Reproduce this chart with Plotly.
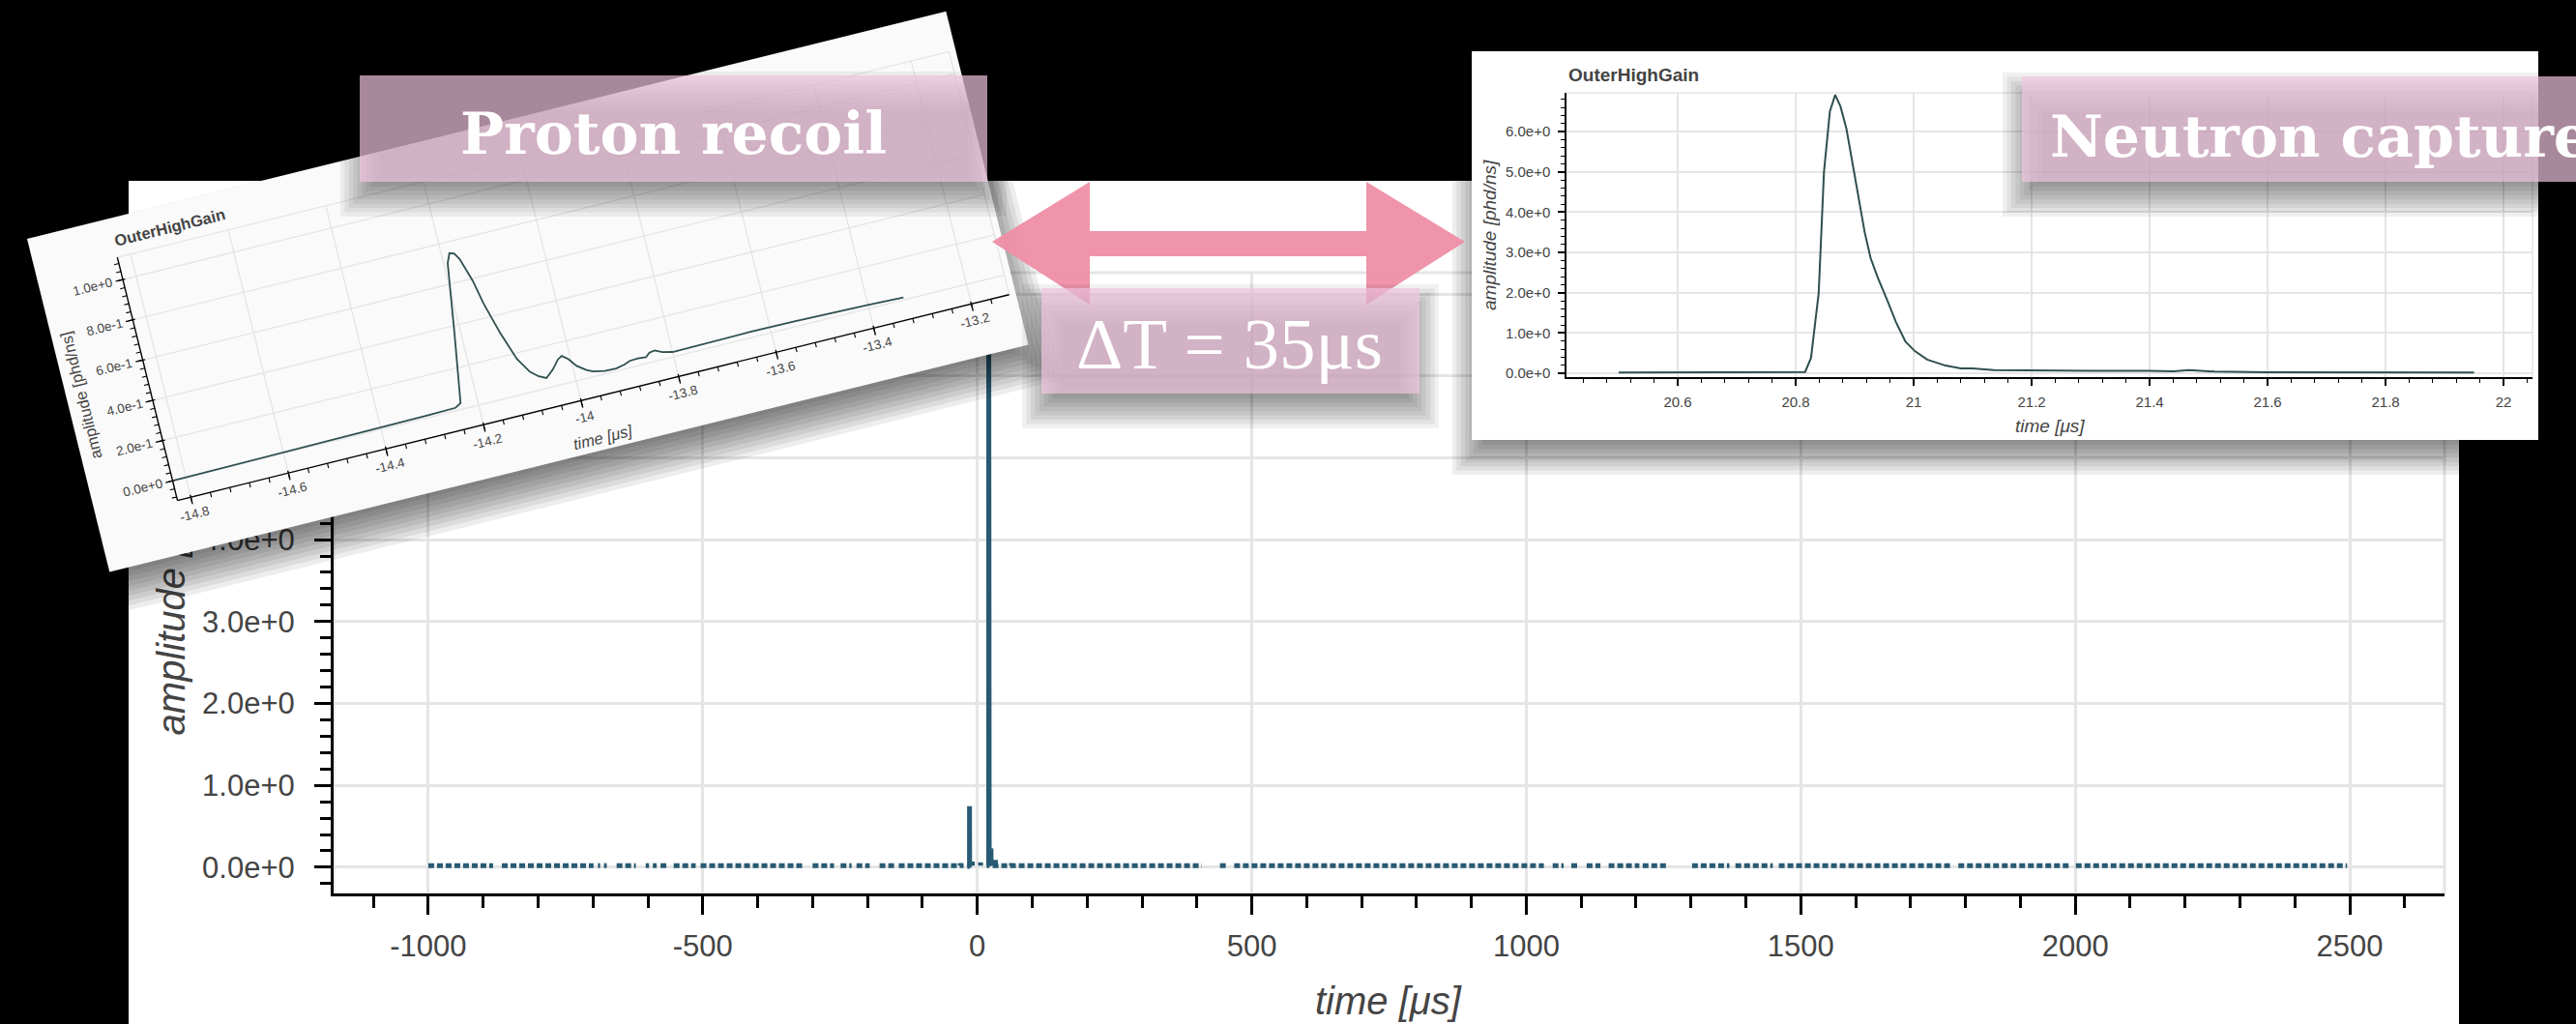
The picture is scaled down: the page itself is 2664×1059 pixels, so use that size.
import math
import plotly.graph_objects as go

W, H = 2664, 1059
SANS = "Liberation Sans"
SERIF_BOLD = "DejaVu Serif"
SERIF = "Liberation Serif"

# ---------------- data ----------------
# Full acquisition window (time in µs, amplitude in phd/ns)
baseline_start = [-1000, -866, -691, -680, -657, -604, -591, -577, -553, -504, -300, -249, -220, -178, -143,
                  28, 442, 468, 1048, 1082, 1110, 1150, 1212, 1302, 1381, 1460, 1787, 2001]
baseline_end = [-882, -699, -687, -675, -622, -598, -584, -563, -513, -314, -261, -229, -196, -149, -25,
                409, 454, 1032, 1068, 1097, 1135, 1206, 1257, 1370, 1449, 1776, 1990, 2495]
baseline_level = 0.02
afterpulse_t = [-31, -9, 6, 25, 33, 62]
afterpulse_a = [0.05, 0.07, 0.06, 0.23, 0.09, 0.05]

# Proton-recoil pulse (zoomed waveform)
proton_t = [-14.823, -14.70, -14.60, -14.50, -14.40, -14.30, -14.246, -14.234, -14.212, -14.192,
            -14.184, -14.175, -14.167, -14.152, -14.142, -14.124, -14.104, -14.085, -14.070, -14.056,
            -14.040, -14.025, -14.016, -14.005, -13.992, -13.975, -13.963, -13.940, -13.917, -13.900,
            -13.887, -13.870, -13.854, -13.845, -13.834, -13.820, -13.800, -13.750, -13.700, -13.640,
            -13.550, -13.500, -13.400, -13.328]
proton_a = [0.000, 0.002, 0.004, 0.006, 0.008, 0.011, 0.014, 0.030, 0.370, 0.700,
            0.745, 0.738, 0.706, 0.590, 0.470, 0.313, 0.172, 0.096, 0.065, 0.048,
            0.080, 0.122, 0.134, 0.112, 0.070, 0.040, 0.025, 0.014, 0.012, 0.020,
            0.032, 0.034, 0.030, 0.048, 0.052, 0.035, 0.024, 0.026, 0.028, 0.028,
            0.026, 0.024, 0.018, 0.012]

# Neutron-capture pulse (zoomed waveform)
neutron_t = [20.50, 20.55, 20.60, 20.65, 20.70, 20.75, 20.80, 20.816, 20.826, 20.839,
             20.848, 20.858, 20.867, 20.876, 20.886, 20.898, 20.908, 20.917, 20.927, 20.939,
             20.955, 20.970, 20.986, 21.002, 21.023, 21.054, 21.080, 21.100, 21.136, 21.196,
             21.300, 21.398, 21.440, 21.467, 21.510, 21.600, 21.700, 21.800, 21.950]
neutron_a = [0.02, 0.02, 0.015, 0.02, 0.015, 0.02, 0.02, 0.03, 0.38, 1.99,
             5.00, 6.50, 6.91, 6.62, 6.07, 5.10, 4.30, 3.50, 2.86, 2.38,
             1.82, 1.27, 0.79, 0.55, 0.34, 0.19, 0.12, 0.12, 0.08, 0.07,
             0.06, 0.06, 0.05, 0.08, 0.04, 0.025, 0.02, 0.02, 0.02]

# Tick labels
main_xtick_vals = [-1000, -500, 0, 500, 1000, 1500, 2000, 2500]
main_xtick_text = ["-1000", "-500", "0", "500", "1000", "1500", "2000", "2500"]
main_ytick_vals = [0, 1, 2, 3, 4, 5, 6, 7]
main_ytick_text = ["0.0e+0", "1.0e+0", "2.0e+0", "3.0e+0", "4.0e+0", "5.0e+0", "6.0e+0", "7.0e+0"]
proton_xtick_vals = [-14.8, -14.6, -14.4, -14.2, -14.0, -13.8, -13.6, -13.4, -13.2]
proton_xtick_text = ["-14.8", "-14.6", "-14.4", "-14.2", "-14", "-13.8", "-13.6", "-13.4", "-13.2"]
proton_ytick_vals = [0.0, 0.2, 0.4, 0.6, 0.8, 1.0]
proton_ytick_text = ["0.0e+0", "2.0e-1", "4.0e-1", "6.0e-1", "8.0e-1", "1.0e+0"]
neutron_xtick_vals = [20.6, 20.8, 21.0, 21.2, 21.4, 21.6, 21.8, 22.0]
neutron_xtick_text = ["20.6", "20.8", "21", "21.2", "21.4", "21.6", "21.8", "22"]
neutron_ytick_vals = [0, 1, 2, 3, 4, 5, 6]
neutron_ytick_text = ["0.0e+0", "1.0e+0", "2.0e+0", "3.0e+0", "4.0e+0", "5.0e+0", "6.0e+0"]

# ---------------- style ----------------
MAIN_C = "#285a73"
INSET_C = "#2f4f4f"
GRID_C = "#e5e5e5"
LABEL_C = "#444444"
PINK_BOX = "rgba(243,197,225,0.69)"
PINK_ARROW = "rgba(238,144,167,0.96)"

fig = go.Figure()


def trace(xs, ys, ax, **kw):
    fig.add_trace(go.Scatter(x=xs, y=ys, xaxis="x" + ax, yaxis="y" + ax, hoverinfo="skip",
                             showlegend=False, **kw))


def poly(pts, color, ax):
    xs = [p[0] for p in pts] + [pts[0][0]]
    ys = [p[1] for p in pts] + [pts[0][1]]
    trace(xs, ys, ax, mode="lines", fill="toself", fillcolor=color, line=dict(width=0))


def segs(pairs, ax, color, width, dash=None):
    xs, ys = [], []
    for (x0, y0), (x1, y1) in pairs:
        xs += [x0, x1, None]
        ys += [y0, y1, None]
    trace(xs, ys, ax, mode="lines", line=dict(color=color, width=width, dash=dash))


def soft_shadow(make_pts, ax, off, spread, n, alpha):
    # stacked translucent layers approximating a blurred drop shadow
    for k in range(n):
        e = -spread / 2 + spread * k / (n - 1)
        pts = [(x + off[0], y + off[1]) for x, y in make_pts(e)]
        poly(pts, "rgba(0,0,0,%.3f)" % alpha, ax)


def rect_pts(x0, y0, x1, y1):
    return lambda e: [(x0 - e, y0 - e), (x1 + e, y0 - e), (x1 + e, y1 + e), (x0 - e, y1 + e)]


ARIAL_W = {".": .278, "e": .556, "+": .584, "-": .333}


def text_w(s, size):
    return sum(ARIAL_W.get(c, .556) for c in s) * size


# ---------------- main waveform (subplot xy) ----------------
bx, by = [], []
for s, e in zip(baseline_start, baseline_end):
    bx += [s, e, None]
    by += [baseline_level, baseline_level, None]
trace(bx, by, "", mode="lines", line=dict(color=MAIN_C, width=5, dash="6px,3px"))

pxs, pys = [], []
pxs += proton_t + [None]
pys += proton_a + [None]
pxs += neutron_t + [None]
pys += neutron_a + [None]
for t, a in zip(afterpulse_t, afterpulse_a):
    pxs += [t, t, None]
    pys += [baseline_level, a, None]
trace(pxs, pys, "", mode="lines", line=dict(color=MAIN_C, width=5))

# helper subplot carrying the main y-axis label (kept under the insets)
trace([None], [None], "2", mode="lines")

# ---------------- overlay A (subplot x3y3, pixel space) ----------------
ROT_DEG = 13.9
C, S = math.cos(math.radians(ROT_DEG)), math.sin(math.radians(ROT_DEG))
ORIGIN = (28, 247)
PANEL_U, PANEL_V = 979, 355


def to_screen(u, v):
    return ORIGIN[0] + u * C + v * S, ORIGIN[1] - u * S + v * C


P_U0, P_U1, P_V0, P_V1 = 86, 972, 41, 300
p_xr = (-14.8273, -13.1225)
p_yr = (-0.0975, 1.1105)


def p_u(t):
    return P_U0 + (t - p_xr[0]) / (p_xr[1] - p_xr[0]) * (P_U1 - P_U0)


def p_v(a):
    return P_V1 - (a - p_yr[0]) / (p_yr[1] - p_yr[0]) * (P_V1 - P_V0)


def rot_rect(u0, v0, u1, v1):
    return lambda e: [to_screen(u0 - e, v0 - e), to_screen(u1 + e, v0 - e),
                      to_screen(u1 + e, v1 + e), to_screen(u0 - e, v1 + e)]


def rseg(pairs):
    return [(to_screen(*a), to_screen(*b)) for a, b in pairs]


soft_shadow(rot_rect(0, 0, PANEL_U, PANEL_V), "3", (8, 20), 44, 10, 0.07)
poly(rot_rect(0, 0, PANEL_U, PANEL_V)(0), "#fafafa", "3")

grid = [((p_u(t), P_V0), (p_u(t), P_V1)) for t in proton_xtick_vals]
grid += [((P_U0, p_v(a)), (P_U1, p_v(a))) for a in proton_ytick_vals]
segs(rseg(grid), "3", GRID_C, 1.3)
frame = rot_rect(P_U0, P_V0, P_U1, P_V1)(0)
segs([(frame[0], frame[1]), (frame[1], frame[2])], "3", GRID_C, 1.3)

rx, ry = [], []
for t, a in zip(proton_t, proton_a):
    x, y = to_screen(p_u(t), p_v(a))
    rx.append(x)
    ry.append(y)
trace(rx, ry, "3", mode="lines", line=dict(color=INSET_C, width=1.8))

segs(rseg([((P_U0, P_V0), (P_U0, P_V1)), ((P_U0, P_V1), (P_U1, P_V1))]), "3", "black", 1.4)
major = [((p_u(t), P_V1 - 2.5), (p_u(t), P_V1 + 7.5)) for t in proton_xtick_vals]
major += [((P_U0 + 2.5, p_v(a)), (P_U0 - 7.5, p_v(a))) for a in proton_ytick_vals]
segs(rseg(major), "3", "black", 1.3)
minor = []
k = -2
while True:
    t = -14.8 + 0.04 * k
    if t > p_xr[1]:
        break
    if t >= p_xr[0]:
        minor.append(((p_u(t), P_V1), (p_u(t), P_V1 + 5)))
    k += 1
for k in range(-2, 29):
    a = 0.04 * k
    if p_yr[0] <= a <= p_yr[1]:
        minor.append(((P_U0, p_v(a)), (P_U0 - 5, p_v(a))))
segs(rseg(minor), "3", "black", 1.1)

# neutron panel backing
N_PANEL = (1522, 53, 2625, 455)
N_PLOT = (1620, 96, 2619, 390)
soft_shadow(rect_pts(*N_PANEL), "3", (0, 16), 40, 10, 0.065)
poly(rect_pts(*N_PANEL)(0), "white", "3")
nx0, ny0, nx1, ny1 = N_PLOT
segs([((nx0, ny0), (nx1, ny0)), ((nx1, ny0), (nx1, ny1))], "3", GRID_C, 1.6)

# ---------------- neutron inset (subplot x4y4) ----------------
trace(neutron_t, neutron_a, "4", mode="lines", line=dict(color=INSET_C, width=2))

# ---------------- overlay B (subplot x5y5): arrow and tags ----------------
BOX_P = (372, 78, 1021, 188)
BOX_N = (2091, 79, 2670, 188)
BOX_DT = (1077, 298, 1468, 407)
for b in (BOX_P, BOX_N):
    soft_shadow(rect_pts(*b), "5", (0, 16), 40, 10, 0.06)

arrow = [(1026, 250), (1127, 188), (1127, 239), (1413, 239), (1413, 188), (1515, 250),
         (1413, 315), (1413, 265), (1127, 265), (1127, 315)]
poly(arrow, PINK_ARROW, "5")
soft_shadow(rect_pts(*BOX_DT), "5", (0, 16), 40, 10, 0.06)
for b in (BOX_P, BOX_N, BOX_DT):
    poly(rect_pts(*b)(0), PINK_BOX, "5")

# ---------------- axes ----------------
pix_x = dict(range=[0, W], domain=[0, 1], visible=False, fixedrange=True, automargin=False)
pix_y = dict(range=[H, 0], domain=[0, 1], visible=False, fixedrange=True, automargin=False)


def fy(py):
    return 1 - py / H


main_minor_x = [v for v in range(-1100, 2700, 100) if v % 500]
main_minor_y = [round(0.2 * k, 1) for k in range(-1, 37) if k % 5]
fig.update_layout(
    width=W, height=H, margin=dict(l=0, r=0, t=0, b=0, autoexpand=False),
    paper_bgcolor="black", plot_bgcolor="rgba(0,0,0,0)", showlegend=False,
    xaxis=dict(domain=[345 / W, 2528 / W], anchor="y", range=[-1172.5, 2672.5], automargin=False,
               tickmode="array", tickvals=main_xtick_vals, ticktext=main_xtick_text,
               ticks="outside", ticklen=19, tickwidth=3, tickcolor="black",
               showline=True, linecolor="black", linewidth=3,
               showgrid=True, gridcolor=GRID_C, gridwidth=3, zeroline=False,
               minor=dict(tickmode="array", tickvals=main_minor_x, ticks="outside", ticklen=12,
                          tickwidth=3, tickcolor="black", showgrid=False),
               tickfont=dict(family=SANS, size=31, color=LABEL_C), ticklabelstandoff=6),
    yaxis=dict(domain=[fy(924), fy(282)], anchor="x", range=[-0.32, 7.26], automargin=False,
               tickmode="array", tickvals=main_ytick_vals, ticktext=main_ytick_text,
               ticks="outside", ticklen=17, tickwidth=3, tickcolor="black",
               showline=True, linecolor="black", linewidth=3,
               showgrid=True, gridcolor=GRID_C, gridwidth=3, zeroline=False,
               minor=dict(tickmode="array", tickvals=main_minor_y, ticks="outside", ticklen=11,
                          tickwidth=3, tickcolor="black", showgrid=False),
               tickfont=dict(family=SANS, size=31, color=LABEL_C), ticklabelstandoff=14),
    xaxis2=dict(domain=[200 / W, 206 / W], anchor="y2", range=[0, 1], visible=False, automargin=False),
    yaxis2=dict(domain=[fy(603) - 0.25, fy(603) + 0.25], anchor="x2", range=[-1, 1], automargin=False,
                tickmode="array", tickvals=[0], ticktext=["amplitude [phd/ns]"], tickangle=-90,
                ticks="", showline=False, showgrid=False, zeroline=False, ticklabelstandoff=0,
                tickfont=dict(family=SANS, size=40, color=LABEL_C, style="italic")),
    xaxis3=dict(anchor="y3", **pix_x),
    yaxis3=dict(anchor="x3", **pix_y),
    xaxis4=dict(domain=[nx0 / W, nx1 / W], anchor="y4", range=[20.4115, 22.049], automargin=False,
                tickmode="array", tickvals=neutron_xtick_vals, ticktext=neutron_xtick_text,
                ticks="outside", ticklen=7, tickwidth=1.5, tickcolor="black",
                showline=True, linecolor="black", linewidth=1.5,
                showgrid=True, gridcolor=GRID_C, gridwidth=1.5, zeroline=False,
                minor=dict(dtick=0.04, tick0=20.6, ticks="outside", ticklen=4, tickwidth=1.2,
                           tickcolor="black", showgrid=False),
                tickfont=dict(family=SANS, size=15, color=LABEL_C), ticklabelstandoff=4),
    yaxis4=dict(domain=[fy(ny1), fy(ny0)], anchor="x4", range=[-0.096, 6.96], automargin=False,
                tickmode="array", tickvals=neutron_ytick_vals, ticktext=neutron_ytick_text,
                ticks="outside", ticklen=7, tickwidth=1.5, tickcolor="black",
                showline=True, linecolor="black", linewidth=1.5,
                showgrid=True, gridcolor=GRID_C, gridwidth=1.5, zeroline=False,
                minor=dict(dtick=0.2, tick0=0, ticks="outside", ticklen=4, tickwidth=1.2,
                           tickcolor="black", showgrid=False),
                tickfont=dict(family=SANS, size=15, color=LABEL_C), ticklabelstandoff=5),
    xaxis5=dict(anchor="y5", **pix_x),
    yaxis5=dict(anchor="x5", **pix_y),
)

# white main panel and its plot outline
fig.add_shape(type="rect", xref="paper", yref="paper", x0=133 / W, x1=2543 / W, y0=-0.01, y1=fy(187),
              fillcolor="white", line=dict(width=0), layer="below")
fig.add_shape(type="rect", xref="paper", yref="paper", x0=345 / W, x1=2528 / W, y0=fy(924), y1=fy(282),
              fillcolor="rgba(0,0,0,0)", line=dict(color=GRID_C, width=3), layer="below")


# ---------------- text ----------------
def pix_text(x, y, text, size, family=SANS, color=LABEL_C, angle=0, weight="normal", style="normal",
             xanchor="center"):
    fig.add_annotation(x=x, y=y, xref="x3", yref="y3", text=text, showarrow=False, textangle=angle,
                       xanchor=xanchor, yanchor="middle",
                       font=dict(family=family, size=size, color=color, weight=weight, style=style))


def rot_text(u, v, text, size, extra=0, **kw):
    x, y = to_screen(u, v)
    pix_text(x, y, text, size, angle=-ROT_DEG + extra, **kw)


# main x-axis title
pix_text(1436, 1035, "time [μs]", 40, style="italic")

# proton-recoil inset texts
for t, s in zip(proton_xtick_vals, proton_xtick_text):
    rot_text(p_u(t), 318, s, 13.5)
for a, s in zip(proton_ytick_vals, proton_ytick_text):
    rot_text(P_U0 - 11 - text_w(s, 13.5) / 2, p_v(a), s, 13.5)
rot_text((P_U0 + P_U1) / 2, 342, "time [μs]", 16.5, style="italic")
rot_text(15, (P_V0 + P_V1) / 2, "amplitude [phd/ns]", 16.5, extra=-90)
rot_text(P_U0 + 60, 24, "OuterHighGain", 16.5, weight="bold")

# neutron-capture inset texts
pix_text(1620, 77, "OuterHighGain", 19, weight="bold", xanchor="left")
pix_text(1540, (ny0 + ny1) / 2, "amplitude [phd/ns]", 19, style="italic", angle=-90)
pix_text((nx0 + nx1) / 2, 440, "time [μs]", 19, style="italic")

# tags
pix_text(696, 138, "Proton recoil", 60, family=SERIF_BOLD, color="white", weight="bold")
pix_text(2118, 141, "Neutron capture", 60, family=SERIF_BOLD, color="white", weight="bold",
         xanchor="left")
pix_text(1271, 355, "ΔT = 35μs", 75, family=SERIF, color="white")

fig.write_html("out.html")
